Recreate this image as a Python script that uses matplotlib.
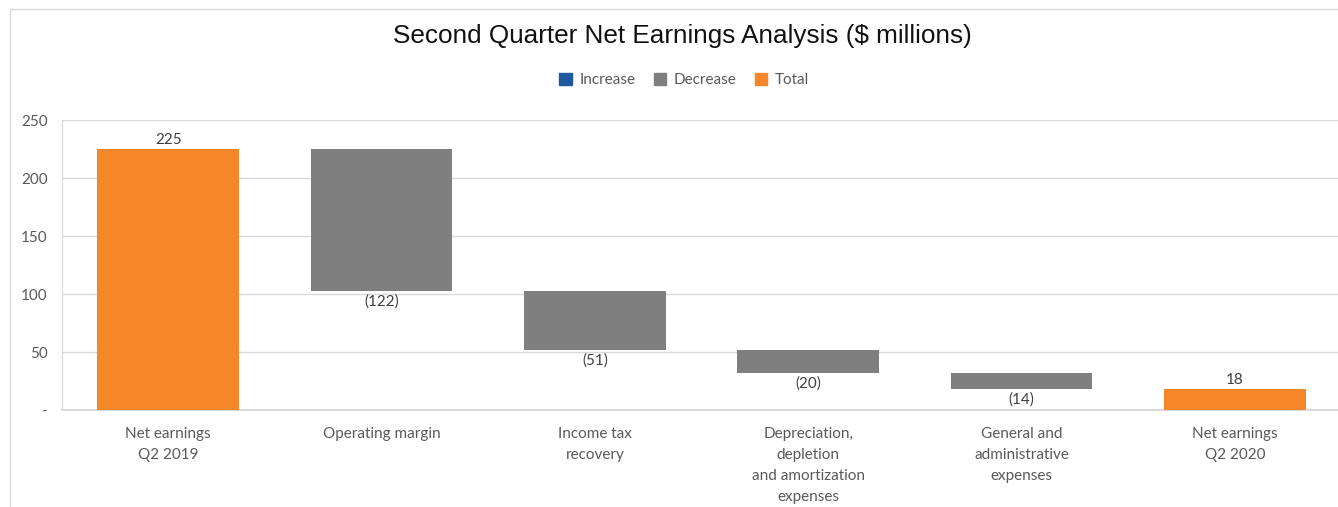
import numpy as np
import matplotlib
matplotlib.use("Agg")
import matplotlib.pyplot as plt
from matplotlib.patches import Rectangle, Patch

categories = ["Net earnings\nQ2 2019", "Operating margin", "Income tax\nrecovery",
              "Depreciation,\ndepletion\nand amortization\nexpenses",
              "General and\nadministrative\nexpenses", "Net earnings\nQ2 2020"]
changes = [225, -122, -51, -20, -14, 18]
is_total = [True, False, False, False, False, True]

c_inc, c_dec, c_tot = "#1f5aa0", "#7f7f7f", "#f5872a"
txt = "#595959"

plt.rcParams["font.family"] = ["Lato", "DejaVu Sans"]

fig = plt.figure(figsize=(13.38, 5.07), dpi=100)
fig.patches.append(Rectangle((10 / 1338, -0.1), 1.2, 1 - 9 / 507 + 0.1, transform=fig.transFigure,
                             fill=False, edgecolor="#d9d9d9", lw=1))
ax = fig.add_axes([61.5 / 1338, 1 - 410 / 507, 1280 / 1338, 290 / 507])

x = np.arange(len(categories))
running = 0
for i, (v, tot) in enumerate(zip(changes, is_total)):
    if tot:
        running = v
        ax.bar(x[i], v, width=0.665, color=c_tot, zorder=3)
        ax.text(x[i], v + 2, f"{v}", ha="center", va="bottom", fontsize=11, color="#404040")
    else:
        top = running
        running = running + v
        col = c_inc if v > 0 else c_dec
        ax.bar(x[i], top - running, bottom=running, width=0.665, color=col, zorder=3)
        lab = f"({abs(v)})" if v < 0 else f"{v}"
        ax.text(x[i], min(top, running) - 3, lab, ha="center", va="top", fontsize=11, color="#404040")

ax.set_xlim(-0.5, len(categories) - 0.5)
ax.set_ylim(0, 250)
ax.set_yticks([0, 50, 100, 150, 200, 250])
ax.set_yticklabels(["-", "50", "100", "150", "200", "250"], color=txt, fontsize=11)
ax.set_xticks(x)
ax.set_xticklabels(categories, color=txt, fontsize=11, linespacing=1.65, va="top")
ax.tick_params(axis="both", length=0)
ax.tick_params(axis="x", pad=12)
ax.tick_params(axis="y", pad=10)
ax.grid(axis="y", color="#d9d9d9", lw=1, zorder=0)
for s in ["top", "right"]:
    ax.spines[s].set_visible(False)
ax.spines["left"].set_color("#d9d9d9")
ax.spines["bottom"].set_color("#d9d9d9")
ax.spines["bottom"].set_linewidth(1.5)

fig.text(682 / 1338, 1 - 36 / 507, "Second Quarter Net Earnings Analysis ($ millions)",
         ha="center", va="center", fontsize=18.8, family=["Liberation Sans", "DejaVu Sans"], color="#111111")

handles = [Patch(color=c_inc, label="Increase"), Patch(color=c_dec, label="Decrease"),
           Patch(color=c_tot, label="Total")]
fig.legend(handles=handles, loc="center", bbox_to_anchor=(684 / 1338, 1 - 80 / 507), ncol=3,
           frameon=False, fontsize=11, handlelength=0.8, handleheight=0.8, columnspacing=1.2,
           handletextpad=0.5, labelcolor=txt)

fig.savefig("out.png", dpi=100)
